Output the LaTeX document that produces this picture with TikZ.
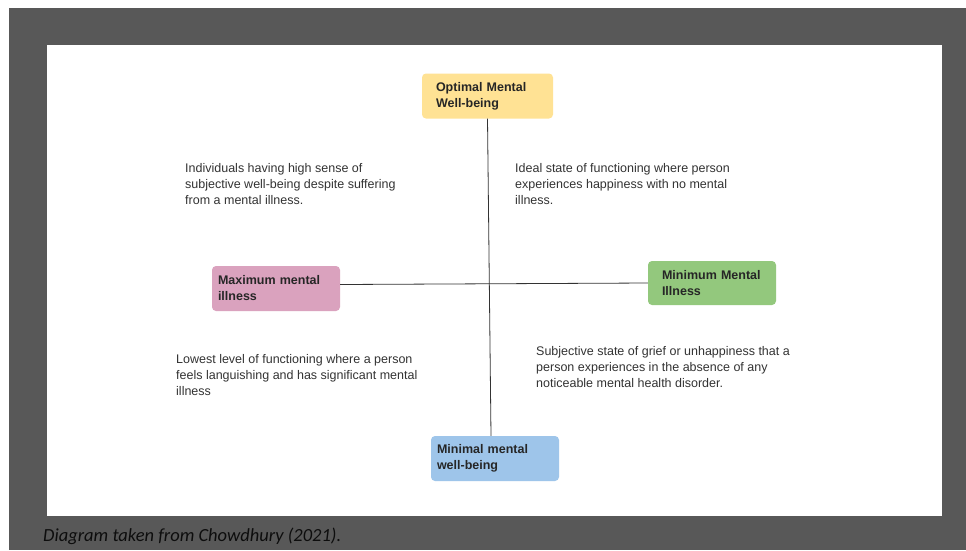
\documentclass[tikz,border=0pt]{standalone}
\usepackage{fontspec}
\setmainfont{Liberation Sans}
\newfontfamily\captionfont{Carlito}
\usetikzlibrary{positioning, calc}
\definecolor{framegray}{RGB}{88, 88, 88}
\definecolor{optyellow}{RGB}{255, 226, 148}
\definecolor{maxpink}{RGB}{218, 162, 190}
\definecolor{mingreen}{RGB}{147, 200, 125}
\definecolor{minblue}{RGB}{158, 197, 234}

\begin{document}
\begin{tikzpicture}[x=1pt, y=-1pt,
    quadbox/.style={rounded corners=4pt, minimum height=45pt, align=left, inner ysep=4pt,
        font=\fontsize{12.5}{16}\selectfont\bfseries, text=black!85},
    quadnote/.style={anchor=base west, align=left, inner sep=0pt,
        font=\fontsize{12.5}{16}\selectfont, text=black!80},
    axis/.style={black!80, line width=0.8pt}]
    \useasboundingbox (0,0) rectangle (966,550);

    % The slide frame
    \fill[framegray] (9,8) rectangle (966,550);
    \fill[white] (47,45) rectangle (942,516);

    % The four poles
    \node[quadbox, fill=optyellow, text width=103pt, inner xsep=14pt] (optimal) at (487.5,96) {Optimal Mental\\Well-being};
    \node[quadbox, fill=maxpink, text width=116pt, inner xsep=6pt] (maxill) at (276,288.5) {Maximum mental\\illness};
    \node[quadbox, fill=mingreen, text width=100pt, inner xsep=14pt, minimum height=44pt] (minill) at (712,283) {Minimum Mental\\Illness};
    \node[quadbox, fill=minblue, text width=116pt, inner xsep=6pt] (minwell) at (495,458.5) {Minimal mental\\well-being};

    % The two axes
    \draw[axis] (optimal.south) -- ($(minwell.north)+(-4,0)$);
    \draw[axis] ($(maxill.east)+(0,-4)$) -- (minill.west);

    % Quadrant notes (base = last line)
    \node[quadnote] (flourish) at (185,204) {Individuals having high sense of\\subjective well-being despite suffering\\from a mental illness.};
    \node[quadnote] (ideal) at (515,204) {Ideal state of functioning where person\\experiences happiness with no mental\\illness.};
    \node[quadnote] (lowest) at (176,395) {Lowest level of functioning where a person\\feels languishing and has significant mental\\illness};
    \node[quadnote] (grief) at (536,387) {Subjective state of grief or unhappiness that a\\person experiences in the absence of any\\noticeable mental health disorder.};

    % Source line
    \node[anchor=base west, inner sep=0pt, font=\captionfont\itshape\fontsize{18.5}{22}\selectfont, text=black!95] (source) at (43,541) {Diagram taken from Chowdhury (2021).};
\end{tikzpicture}
\end{document}
